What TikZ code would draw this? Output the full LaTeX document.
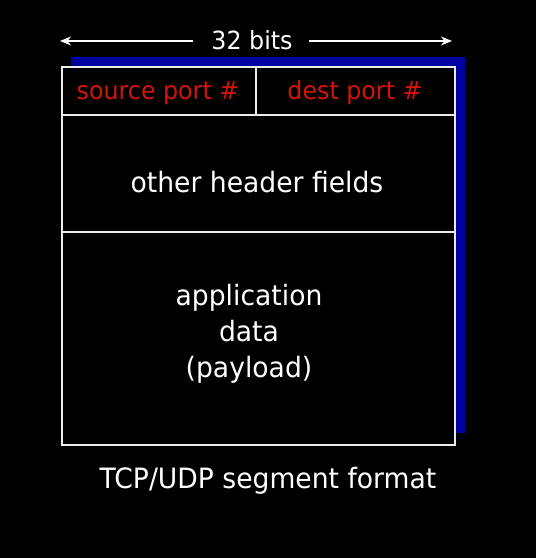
\documentclass[tikz,border=0pt]{standalone}
\usepackage{fontspec}
\setmainfont{DejaVu Sans}[FakeStretch=0.95]
\usetikzlibrary{arrows.meta}
\definecolor{portred}{RGB}{210,20,10}
\definecolor{shadowblue}{RGB}{0,0,160}
\definecolor{linegrey}{RGB}{235,235,235}
\tikzset{
  field/.style={draw=linegrey, line width=2.2pt, fill=black},
  porttxt/.style={text=portred, font=\fontsize{25}{30}\selectfont, inner sep=0pt},
  bodytxt/.style={text=white, font=\fontsize{28}{36}\selectfont, inner sep=0pt, align=center},
  dim/.style={draw=white, line width=2pt, -{Stealth[length=11pt,width=9pt]}}
}
\begin{document}
\begin{tikzpicture}[x=1pt,y=-1pt]
\fill[black] (0,0) rectangle (536,558);
\useasboundingbox (0,0) rectangle (536,558);
% shadow
\fill[shadowblue] (71,57) rectangle (465,433);
% fields
\draw[field] (62,67) rectangle (256,115);
\draw[field] (256,67) rectangle (455,115);
\draw[field] (62,115) rectangle (455,232);
\draw[field] (62,232) rectangle (455,445);
% texts
\node[porttxt] (src) at (158,93) {source port \#};
\node[porttxt] (dst) at (355,93) {dest port \#};
\node[bodytxt] (hdr) at (257,182) {other header fields};
\node[bodytxt] (app) at (249,334) {application\\data\\(payload)};
\node[bodytxt] (cap) at (268,481) {TCP/UDP segment format};
% 32 bits
\node[text=white, font=\fontsize{25}{30}\selectfont, inner sep=0pt] (bits) at (252,40) {32 bits};
\coordinate (lend) at (60,41);
\coordinate (rend) at (452,41);
\coordinate (lstart) at (193,41);
\coordinate (rstart) at (309,41);
\draw[dim] (lstart) -- (lend);
\draw[dim] (rstart) -- (rend);
\end{tikzpicture}
\end{document}
